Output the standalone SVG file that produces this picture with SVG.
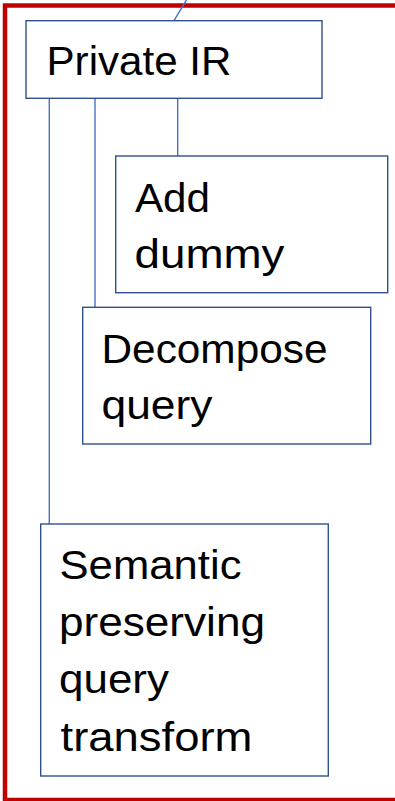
<svg xmlns="http://www.w3.org/2000/svg" width="395" height="801" viewBox="0 0 395 801">
  <style>
    .box { fill: #ffffff; stroke: #2F528F; stroke-width: 1.4; }
    .link { fill: none; stroke: #4472C4; stroke-width: 1.4; }
    .label { font-family: "Liberation Sans", "Open Sans", Arial, sans-serif; font-size: 41px; fill: #000000; }
  </style>
  <rect width="395" height="801" fill="#ffffff"/>
  <!-- outer red frame -->
  <rect x="5" y="5.5" width="400" height="794.5" fill="none" stroke="#C00000" stroke-width="4.5"/>

  <g id="connectors">
    <line class="link" x1="174" y1="20.7" x2="186.5" y2="0"/>
    <line class="link" x1="177.7" y1="98.3" x2="177.7" y2="156"/>
    <line class="link" x1="95" y1="98.3" x2="95" y2="307.3"/>
    <line class="link" x1="49.3" y1="98.3" x2="49.3" y2="524"/>
  </g>

  <g id="private-ir">
    <rect class="box" x="26" y="20.7" width="296" height="77.6"/>
    <text class="label" x="46.5" y="75" textLength="185" lengthAdjust="spacingAndGlyphs">Private IR</text>
  </g>

  <g id="add-dummy">
    <rect class="box" x="115.7" y="156" width="272" height="136.7"/>
    <text class="label" x="135" y="211.7" textLength="75" lengthAdjust="spacingAndGlyphs">Add</text>
    <text class="label" x="134.5" y="268.2" textLength="150" lengthAdjust="spacingAndGlyphs">dummy</text>
  </g>

  <g id="decompose-query">
    <rect class="box" x="82.7" y="307.3" width="288" height="136.7"/>
    <text class="label" x="101.5" y="363.3" textLength="226" lengthAdjust="spacingAndGlyphs">Decompose</text>
    <text class="label" x="101.5" y="418.5" textLength="111" lengthAdjust="spacingAndGlyphs">query</text>
  </g>

  <g id="semantic-transform">
    <rect class="box" x="40.7" y="524" width="287.6" height="252"/>
    <text class="label" x="59.5" y="579.3" textLength="182" lengthAdjust="spacingAndGlyphs">Semantic</text>
    <text class="label" x="59" y="636.2" textLength="206" lengthAdjust="spacingAndGlyphs">preserving</text>
    <text class="label" x="59" y="693" textLength="110" lengthAdjust="spacingAndGlyphs">query</text>
    <text class="label" x="60.5" y="750.7" textLength="192" lengthAdjust="spacingAndGlyphs">transform</text>
  </g>
</svg>
